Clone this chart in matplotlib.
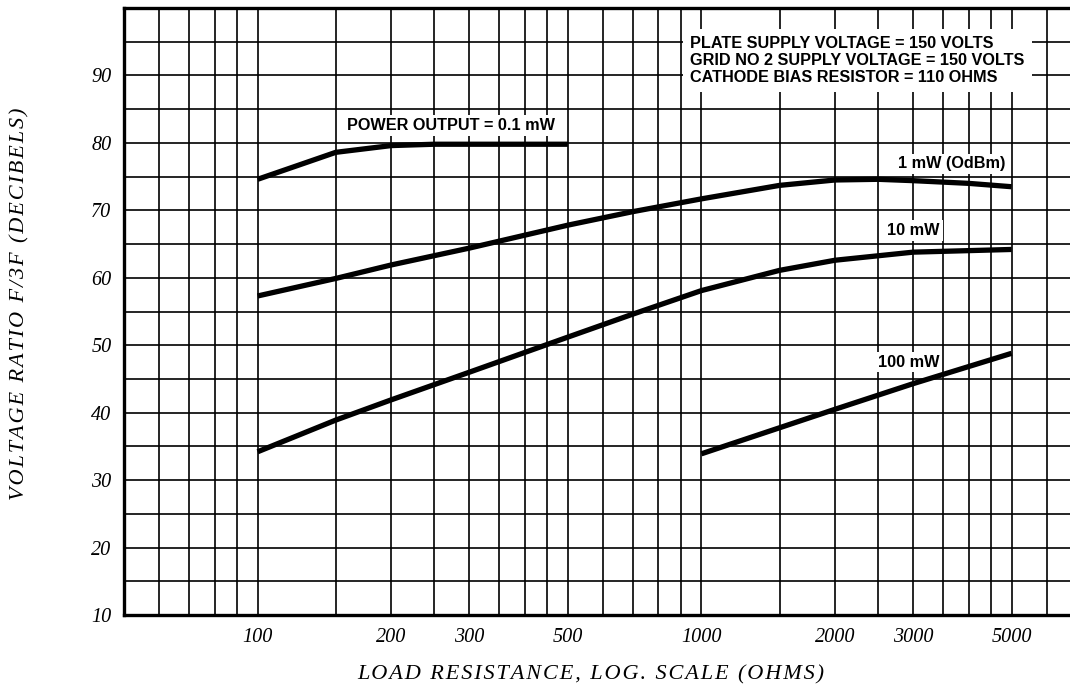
import matplotlib
matplotlib.use("Agg")
import matplotlib.pyplot as plt
from matplotlib.ticker import NullFormatter

load_01 = [100, 125, 150, 200, 250, 300, 400, 500]
db_01 = [74.6, 76.8, 78.6, 79.6, 79.8, 79.8, 79.8, 79.8]

load_1 = [100, 150, 200, 300, 500, 700, 1000, 1500, 2000, 2500, 3000, 4000, 5000]
db_1 = [57.3, 59.9, 61.9, 64.4, 67.8, 69.8, 71.7, 73.7, 74.5, 74.6, 74.4, 74.0, 73.5]

load_10 = [100, 150, 200, 300, 500, 700, 1000, 1500, 2000, 3000, 5000]
db_10 = [34.2, 38.9, 41.9, 46.0, 51.2, 54.6, 58.1, 61.1, 62.6, 63.8, 64.2]

load_100 = [1000, 2000, 3000, 5000]
db_100 = [33.9, 40.5, 44.3, 48.8]

x_labels = [100, 200, 300, 500, 1000, 2000, 3000, 5000]
x_grid = [60, 70, 80, 90, 100, 150, 200, 250, 300, 350, 400, 450, 500,
          600, 700, 800, 900, 1000, 1500, 2000, 2500, 3000, 3500, 4000,
          4500, 5000, 6000]
y_labels = [10, 20, 30, 40, 50, 60, 70, 80, 90]
y_grid = [15, 25, 35, 45, 55, 65, 75, 85, 95]

serif = ['Liberation Serif', 'DejaVu Serif']
bold = dict(family=['Liberation Sans', 'DejaVu Sans'], weight='bold', fontsize=11.7)


def spaced(s):
    # wide letter spacing like the printed axis titles
    return '\u200a'.join(s)


fig = plt.figure(figsize=(10.7, 6.9), dpi=100)
ax = fig.add_axes([124 / 1070, 75 / 690, 946 / 1070, 607 / 690])

ax.set_xscale('log')
ax.set_xlim(50, 6770)
ax.set_ylim(10, 100)

ax.set_xticks(x_labels)
ax.set_xticklabels([str(v) for v in x_labels], family=serif, style='italic', fontsize=14.5)
ax.set_xticks(x_grid, minor=True)
ax.xaxis.set_minor_formatter(NullFormatter())
ax.set_yticks(y_labels)
ax.set_yticklabels([str(v) for v in y_labels], family=serif, style='italic', fontsize=14.5)
ax.set_yticks(y_grid, minor=True)
ax.tick_params(which='both', length=0)
ax.tick_params(axis='x', pad=9)
ax.tick_params(axis='y', pad=9)

ax.grid(True, which='both', color='black', lw=1.2)
ax.set_axisbelow(True)

for side in ['left', 'bottom', 'top']:
    ax.spines[side].set_linewidth(2.4)
ax.spines['right'].set_visible(False)

for xs, ys in [(load_01, db_01), (load_1, db_1), (load_10, db_10), (load_100, db_100)]:
    ax.plot(xs, ys, color='black', lw=3.8, solid_capstyle='butt', solid_joinstyle='round')

box = dict(facecolor='white', edgecolor='none', pad=2)
ax.text(273, 82.6, 'POWER OUTPUT = 0.1 mW', ha='center', va='center', bbox=box, **bold)
ax.text(3664, 76.9, '1 mW (OdBm)', ha='center', va='center', bbox=box, **bold)
ax.text(3006, 67.0, '10 mW', ha='center', va='center', bbox=box, **bold)
ax.text(2931, 47.5, '100 mW', ha='center', va='center', bbox=box, **bold)
ax.text(944, 92.2, 'PLATE SUPPLY VOLTAGE = 150 VOLTS\n'
        'GRID NO 2 SUPPLY VOLTAGE = 150 VOLTS\n'
        'CATHODE BIAS RESISTOR = 110 OHMS',
        ha='left', va='center', linespacing=1.15,
        bbox=dict(facecolor='white', edgecolor='none', pad=5), **bold)

fig.text(591 / 1070, 15 / 690, spaced('LOAD RESISTANCE, LOG. SCALE (OHMS)'),
         ha='center', va='center', family=serif, style='italic', fontsize=16)
fig.text(20 / 1070, 386.5 / 690, spaced('VOLTAGE RATIO F/3F (DECIBELS)'), rotation=90,
         ha='center', va='center', family=serif, style='italic', fontsize=16)

fig.savefig('out.png', dpi=100)
